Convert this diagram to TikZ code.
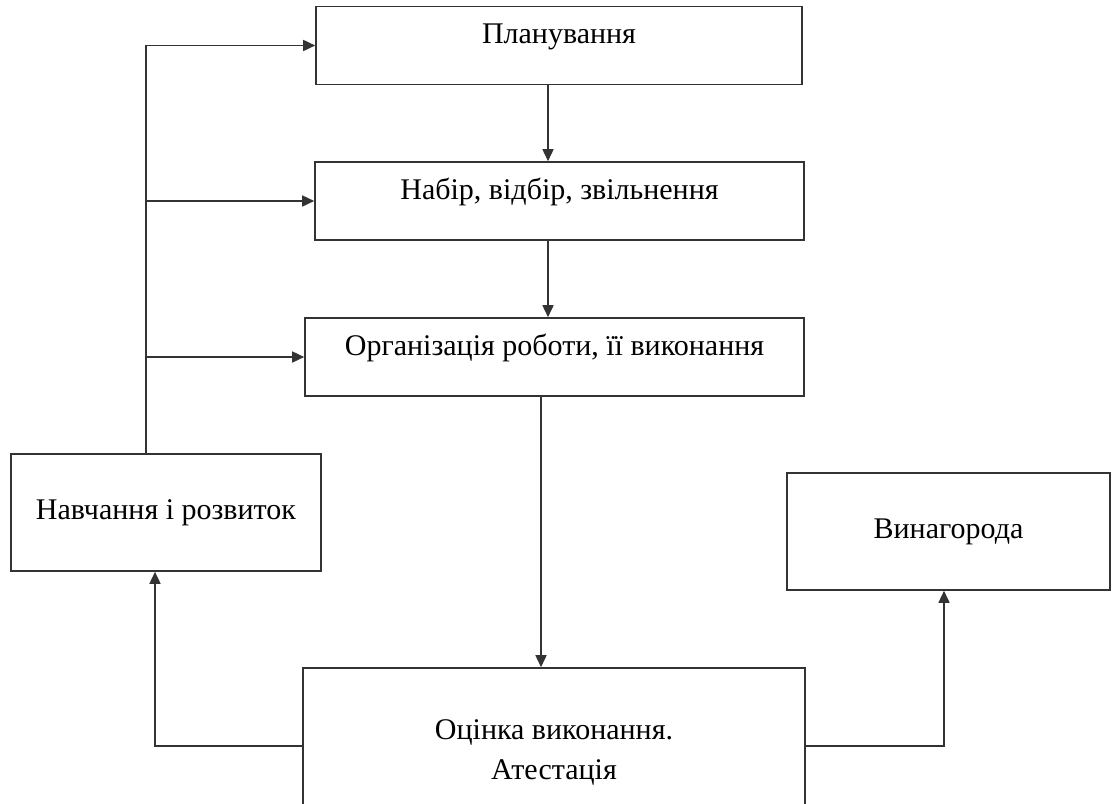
\documentclass[tikz,border=0pt]{standalone}
\usepackage{fontspec}
\setmainfont{Liberation Serif}
\usepackage{xcolor}
\usepackage{tikz}
\usetikzlibrary{arrows.meta, positioning, calc}
\definecolor{hr-line}{HTML}{333333}

\begin{document}
\begin{tikzpicture}[
			x=0.5pt, y=-0.5pt,
			stage/.style={
				draw=hr-line, line width=0.8pt, fill=white,
				minimum width=#1, minimum height=39pt,
				inner ysep=0pt, text height=12pt, text depth=14pt,
				font=\fontsize{15}{20}\selectfont
			},
			block/.style 2 args={
				draw=hr-line, line width=0.8pt, fill=white,
				minimum width=#1, minimum height=#2,
				align=center, inner sep=0pt,
				font=\fontsize{15}{20}\selectfont
			},
			flow/.style={
				draw=hr-line, line width=0.8pt,
				-{Triangle[length=6pt,width=5.5pt]}
			}
			]
			
			\useasboundingbox (0,0) rectangle (1112,803);
			
			% main chain
			\node[stage=243pt] (plan) at (559,45.5) {Планування};
			\node[stage=244.5pt] (nabir) at (559.5,201) {Набір, відбір, звільнення};
			\node[stage=249.5pt] (org) at (554.5,357) {Організація роботи, її виконання};
			\node[block={251pt}{84pt}] (ocin) at (554,752) {Оцінка виконання.\\Атестація};
			
			% side boxes
			\node[block={155pt}{58.5pt}] (navch) at (166,512.5) {Навчання і розвиток};
			\node[block={161.5pt}{58.5pt}] (vyn) at (948.5,531.5) {Винагорода};
			
			\draw[flow] ([xshift=-5.5pt]plan.south) -- ([xshift=-5.5pt]plan.south |- nabir.north);
			\draw[flow] ([xshift=-5.75pt]nabir.south) -- ([xshift=-5.75pt]nabir.south |- org.north);
			\draw[flow] ([xshift=-6.75pt]org.south) -- ([xshift=-6.75pt]org.south |- ocin.north);
			
			\draw[flow] ([yshift=3pt]ocin.west) -| ([xshift=-5.5pt]navch.south);
			\draw[flow] ([yshift=3pt]ocin.east) -| ([xshift=-2.25pt]vyn.south);
			
			% feedback from training
			\coordinate (spine) at ([xshift=-10pt]navch.north);
			\draw[flow] (spine) |- (plan.west);
			\draw[flow] (spine |- nabir.west) -- (nabir.west);
			\draw[flow] (spine |- org.west) -- (org.west);
			
		\end{tikzpicture}
\end{document}
